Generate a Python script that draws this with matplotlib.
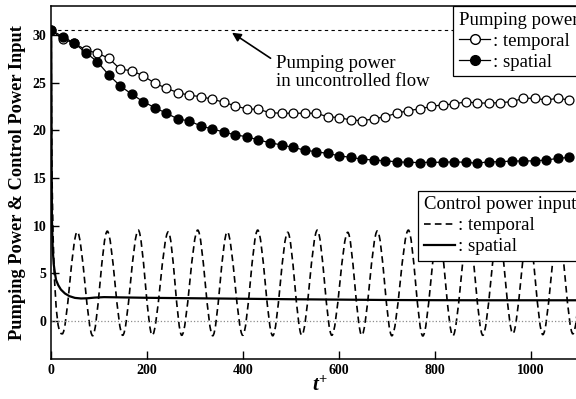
import numpy as np
from matplotlib import pyplot as plt
from matplotlib.path import Path
from matplotlib.patches import PathPatch
from matplotlib.lines import Line2D

plt.rcParams["font.family"] = ["Liberation Serif", "DejaVu Serif"]
plt.rcParams["mathtext.fontset"] = "custom"
plt.rcParams["mathtext.it"] = "Liberation Serif:italic:bold"
plt.rcParams["mathtext.rm"] = "Liberation Serif:bold"

# pumping power, sampled every 24 time units
pump_t = np.arange(46) * 24
pump_temporal = [30.5, 29.56, 29.14, 28.43, 28.09, 27.56, 26.4, 26.26, 25.7, 24.94,
                 24.41, 23.95, 23.68, 23.53, 23.26, 22.94, 22.55, 22.24, 22.2, 21.85,
                 21.79, 21.79, 21.79, 21.79, 21.43, 21.33, 21.09, 21.01, 21.19, 21.43,
                 21.79, 22.06, 22.25, 22.5, 22.68, 22.75, 23.0, 22.86, 22.86, 22.9,
                 23.0, 23.36, 23.36, 23.18, 23.36, 23.18]
pump_spatial = [30.5, 29.83, 29.14, 28.15, 27.2, 25.8, 24.65, 23.78, 23.0, 22.37,
                21.79, 21.19, 20.98, 20.45, 20.14, 19.82, 19.51, 19.33, 18.98, 18.7,
                18.46, 18.21, 17.93, 17.75, 17.58, 17.33, 17.16, 16.98, 16.88, 16.8,
                16.7, 16.64, 16.62, 16.65, 16.64, 16.7, 16.64, 16.55, 16.7, 16.7,
                16.78, 16.78, 16.8, 16.88, 17.06, 17.16]
pump_uncontrolled = 30.5

# control power input, temporal control: start point then troughs/peaks
ctrl_temporal_t = [0, 22.9, 54.2, 86.3, 116.8, 148.9, 181.4, 210.6, 244.0, 272.0,
                   305.3, 336.6, 367.0, 399.2, 430.4, 461.7, 493.0, 522.2, 554.7, 584.8,
                   618.1, 647.3, 679.9, 710.0, 744.5, 774.6, 807.0, 837.2, 869.5, 899.7,
                   932.0, 962.3, 994.5, 1024.8, 1057.0, 1087.4, 1119.0, 1150.0]
ctrl_temporal_v = [30.5, -1.35, 9.35, -1.55, 9.42, -1.5, 9.53, -1.5, 9.35, -1.5,
                   9.53, -1.55, 9.35, -1.5, 9.53, -1.55, 9.3, -1.5, 9.53, -1.5,
                   9.3, -1.5, 9.45, -1.55, 9.53, -1.57, 9.4, -1.57, 9.4, -1.5,
                   9.4, -1.33, 9.4, -1.43, 9.4, -1.35, 9.4, -1.4]

# control power input, spatial control
ctrl_spatial_t = [0, 0.8, 1.5, 3, 5, 7.7, 10, 14.6, 20, 28.6, 38, 49.4, 62, 75, 90,
                  110, 150, 200, 300, 400, 500, 600, 700, 800, 900, 1000, 1150]
ctrl_spatial_v = [30.5, 16, 10.5, 7.6, 6.0, 5.0, 4.3, 3.75, 3.3, 2.88, 2.6, 2.42, 2.36,
                  2.38, 2.45, 2.5, 2.47, 2.43, 2.38, 2.33, 2.28, 2.24, 2.2, 2.18, 2.17,
                  2.17, 2.17]

x_ticks = [0, 200, 400, 600, 800, 1000]
y_ticks = [0, 5, 10, 15, 20, 25, 30]


def oscillation_path(t, v):
    # smooth curve through the extrema: flat tangent at each extremum,
    # vertical drop out of the start point
    verts = [(t[0], v[0])]
    codes = [Path.MOVETO]
    for i in range(1, len(t)):
        dt = t[i] - t[i - 1]
        if i == 1:
            c1 = (t[0], v[1])
        else:
            c1 = (t[i - 1] + dt / 3, v[i - 1])
        c2 = (t[i] - dt / 3, v[i])
        verts += [c1, c2, (t[i], v[i])]
        codes += [Path.CURVE4] * 3
    return Path(verts, codes)


fig = plt.figure(figsize=(5.76, 3.99), dpi=100)
# axes run past the right edge of the figure, as in the original crop
ax = fig.add_axes([0.089, 0.1, 0.9352, 0.884])

ax.axhline(0, color="0.55", ls=":", lw=0.9)
ax.axhline(pump_uncontrolled, color="k", ls=(0, (3, 3)), lw=0.8)

ax.add_patch(PathPatch(oscillation_path(ctrl_temporal_t, ctrl_temporal_v),
                       fill=False, ec="k", lw=1.2, ls=(0, (4, 2.5))))
ax.plot(ctrl_spatial_t, ctrl_spatial_v, color="k", lw=1.6)

ax.plot(pump_t, pump_temporal, color="k", lw=0.9, marker="o", ms=6.4,
        mfc="white", mec="k", mew=0.9)
ax.plot(pump_t, pump_spatial, color="k", lw=0.9, marker="o", ms=6.4,
        mfc="k", mec="k")

ax.annotate("", xy=(372, 30.4), xytext=(462, 27.4),
            arrowprops=dict(arrowstyle="-|>", color="k", lw=1.2, mutation_scale=13))
ax.text(468, 26.1, "Pumping power\nin uncontrolled flow", ha="left", va="center",
        fontsize=13.5, linespacing=1.1)

ax.set_xlim(0, 1123)
ax.set_ylim(-4, 33)
ax.set_xticks(x_ticks)
ax.set_yticks(y_ticks)
ax.tick_params(direction="in", length=6, width=1, labelsize=10)
for lab in ax.get_xticklabels() + ax.get_yticklabels():
    lab.set_fontweight("bold")
for sp in ax.spines.values():
    sp.set_linewidth(1.1)

ax.set_ylabel("Pumping Power & Control Power Input", fontsize=13.2,
              fontweight="bold", labelpad=5)
ax.set_xlabel(r"$t^{+}$", fontsize=15, labelpad=0)

leg_style = dict(loc="upper left", fontsize=13.5, title_fontsize=13.5,
                 alignment="left", fancybox=False, edgecolor="k", framealpha=1,
                 borderpad=0.3, labelspacing=0.2, handlelength=1.7,
                 handletextpad=0.15, borderaxespad=0)

h_pump = [Line2D([], [], color="k", lw=0.9, marker="o", ms=7, mfc="white", mec="k"),
          Line2D([], [], color="k", lw=0.9, marker="o", ms=7, mfc="k", mec="k")]
leg1 = ax.legend(h_pump, [": temporal", ": spatial"], title="Pumping power",
                 bbox_to_anchor=(0.7457, 1.0), **leg_style)
leg1.get_frame().set_linewidth(0.9)
ax.add_artist(leg1)

h_ctrl = [Line2D([], [], color="k", lw=1.2, ls=(0, (4, 2.5))),
          Line2D([], [], color="k", lw=1.6)]
leg2 = ax.legend(h_ctrl, [": temporal", ": spatial"], title="Control power input",
                 bbox_to_anchor=(0.6807, 0.477), **leg_style)
leg2.get_frame().set_linewidth(0.9)

fig.savefig("out.png", dpi=100)
